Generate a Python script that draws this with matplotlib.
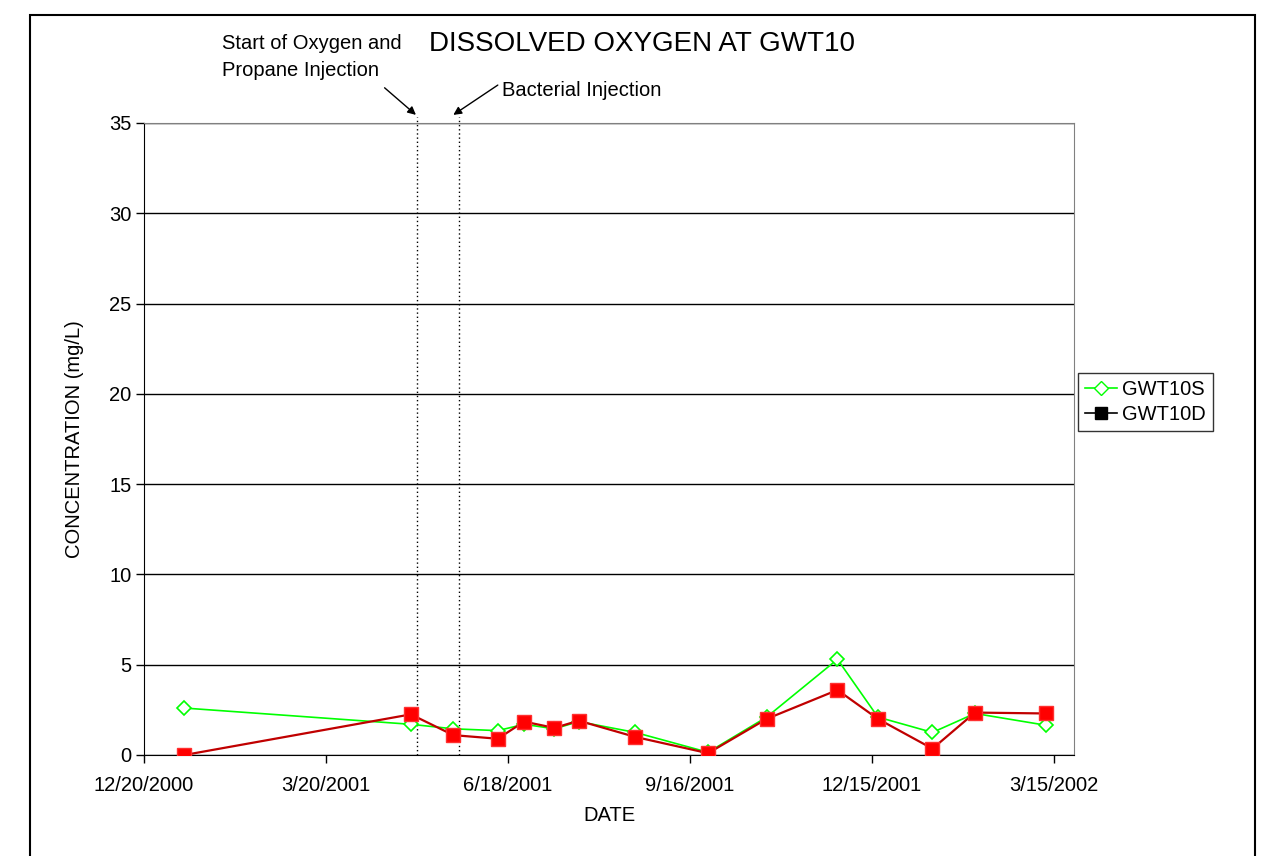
import datetime as dt
import matplotlib
matplotlib.use("Agg")
import matplotlib.pyplot as plt
from matplotlib.lines import Line2D
from matplotlib.patches import Rectangle

plt.rcParams['font.family'] = ['Liberation Sans', 'DejaVu Sans']

# sample dates and concentrations (mg/L)
dates = ['2001-01-09', '2001-05-01', '2001-05-22', '2001-06-13', '2001-06-26',
         '2001-07-11', '2001-07-23', '2001-08-20', '2001-09-25', '2001-10-24',
         '2001-11-28', '2001-12-18', '2002-01-14', '2002-02-04', '2002-03-11']
gwt10s = [2.6, 1.7, 1.45, 1.35, 1.7, 1.45, 1.85, 1.25, 0.15, 2.1, 5.3, 2.1, 1.25, 2.3, 1.65]
gwt10d = [0.0, 2.25, 1.1, 0.9, 1.85, 1.5, 1.9, 1.0, 0.1, 2.0, 3.6, 2.0, 0.35, 2.35, 2.3]

tick_dates = ['2000-12-20', '2001-03-20', '2001-06-18', '2001-09-16', '2001-12-15', '2002-03-15']
tick_labels = ['12/20/2000', '3/20/2001', '6/18/2001', '9/16/2001', '12/15/2001', '3/15/2002']

event_dates = ['2001-05-04', '2001-05-25']   # O2/propane start, bacterial injection

def d(s):
    return dt.datetime.strptime(s, '%Y-%m-%d')

x = [d(s) for s in dates]
fs = 14.5

fig = plt.figure(figsize=(12.85, 8.56), dpi=100)
ax = fig.add_axes([144/1285, 101/856, 930/1285, 632/856])

ax.plot(x, gwt10s, color='#00FF00', lw=1.2, marker='D', ms=7.5,
        mfc='white', mec='#00FF00', mew=1.2, zorder=3)
ax.plot(x, gwt10d, color='#C00000', lw=1.6, marker='s', ms=10.5,
        mfc='#FF0000', mec='#FF3030', zorder=4)

for e in event_dates:
    ax.plot([d(e), d(e)], [0, 35.35], color='black', lw=1,
            ls=(0, (1, 2)), clip_on=False, zorder=2)

ax.set_xlim(d('2000-12-20'), d('2000-12-20') + dt.timedelta(days=460))
ax.set_ylim(0, 35)
ax.set_xticks([d(s) for s in tick_dates])
ax.set_xticklabels(tick_labels)
ax.set_yticks(range(0, 36, 5))
ax.tick_params(labelsize=fs, length=6, width=1, direction='out')
ax.tick_params(axis='x', pad=9)
ax.tick_params(axis='y', pad=3)
ax.grid(axis='y', color='black', lw=1)
ax.set_axisbelow(True)

for side in ['top', 'right']:
    ax.spines[side].set_color('#808080')
for side in ['left', 'bottom']:
    ax.spines[side].set_color('black')

ax.set_xlabel('DATE', fontsize=fs, labelpad=8)
ax.set_ylabel('CONCENTRATION (mg/L)', fontsize=fs, labelpad=18)

fig.text(642/1285, 1 - 44/856, 'DISSOLVED OXYGEN AT GWT10', fontsize=20,
         ha='center', va='center')

ax.annotate('', xy=(d(event_dates[0]) - dt.timedelta(days=0.5), 35.45),
            xytext=(d('2001-04-18'), 36.95), annotation_clip=False,
            arrowprops=dict(arrowstyle='-|>', color='black', lw=1,
                            mutation_scale=12, shrinkA=0, shrinkB=0))
ax.annotate('', xy=(d(event_dates[1]) - dt.timedelta(days=3), 35.45),
            xytext=(d('2001-06-13'), 37.1), annotation_clip=False,
            arrowprops=dict(arrowstyle='-|>', color='black', lw=1,
                            mutation_scale=12, shrinkA=0, shrinkB=0))
fig.text(222/1285, 1 - 57/856, 'Start of Oxygen and\nPropane Injection',
         fontsize=fs, ha='left', va='center', linespacing=1.5)
fig.text(502/1285, 1 - 91/856, 'Bacterial Injection', fontsize=fs,
         ha='left', va='center')

handles = [Line2D([], [], color='#00FF00', lw=1.2, marker='D', ms=7.5,
                  mfc='white', mec='#00FF00'),
           Line2D([], [], color='black', lw=1.2, marker='s', ms=8,
                  mfc='black', mec='black')]
leg = fig.legend(handles, ['GWT10S', 'GWT10D'], loc='upper left',
                 bbox_to_anchor=(1078/1285, 1 - 373/856), fontsize=fs,
                 frameon=True, fancybox=False, edgecolor='black',
                 handlelength=1.6, handletextpad=0.25, borderpad=0.35,
                 labelspacing=0.3, borderaxespad=0)
leg.get_frame().set_linewidth(1)

fig.patches.append(Rectangle((30/1285, -0.02), 1225/1285, 1 - 15/856 + 0.02,
                             transform=fig.transFigure, fill=False,
                             edgecolor='black', lw=1.5))

fig.savefig('out.png', dpi=100)
